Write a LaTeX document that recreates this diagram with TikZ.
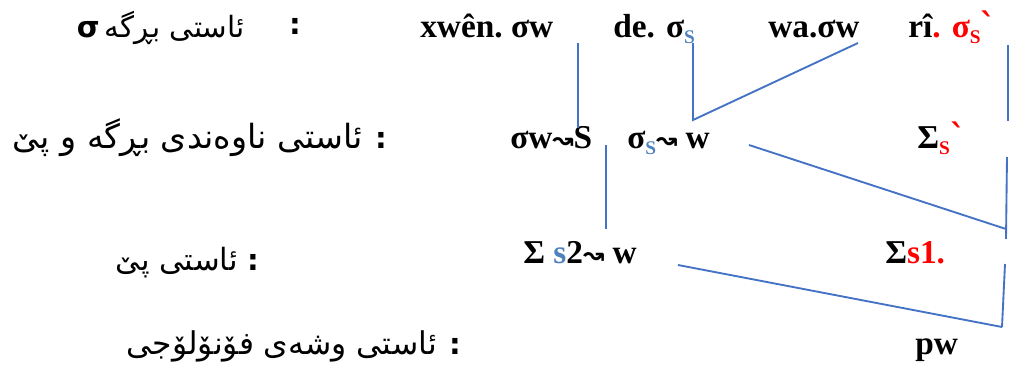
\documentclass[tikz,border=0pt]{standalone}
\usepackage{fontspec}
\setmainfont{Liberation Serif}
\newfontfamily\arfont[Script=Arabic]{DejaVu Sans}
\newfontfamily\symfont{DejaVu Sans}
\newfontfamily\serifsym{DejaVu Serif}
\TeXXeTstate=1
\definecolor{lineblue}{HTML}{4472C4}
\definecolor{sblue}{HTML}{4F81BD}
\definecolor{rred}{HTML}{FF0000}
\newcommand\wavearr{{\symfont\bfseries\fontsize{19}{19}\selectfont ↝}}
\newcommand\subS[1]{\raisebox{-5pt}{\fontsize{14.5}{15}\selectfont\textcolor{#1}{S}}}
\newcommand\grv{\kern-0.5pt{\serifsym\bfseries ˋ}}
\begin{document}
\begin{tikzpicture}[x=0.75pt,y=-0.75pt,
  lat/.style={anchor=base west, inner sep=0pt, font=\bfseries\fontsize{25}{29}\selectfont},
  ark/.style={anchor=base east, inner sep=0pt, font=\arfont\fontsize{#1}{28}\selectfont},
  colon/.style={anchor=base, inner sep=0pt, font=\arfont\bfseries\fontsize{22}{26}\selectfont},
  ln/.style={draw=lineblue, line width=1.4pt}]
\useasboundingbox (0,0) rectangle (1015,371);
% Latin nodes
\node[lat] (xwen) at (420,37) {xwên.\ σw};
\node[lat] (de) at (613,37) {de. σ\subS{sblue}};
\node[lat] (wa) at (768,37) {wa.σw};
\node[lat] (ri) at (908,37) {rî\textcolor{rred}{. σ}\subS{rred}\textcolor{rred}{\grv}};
\node[lat] (sw) at (510,148) {σw\wavearr S};
\node[lat] (ss) at (627,148) {σ\subS{sblue}\wavearr\ w};
\node[lat] (Ss) at (917,148) {Σ\subS{rred}\textcolor{rred}{\grv}};
\node[lat] (s2) at (523,263) {Σ \textcolor{sblue}{s}2\wavearr\ w};
\node[lat] (s1) at (885,263) {Σ\textcolor{rred}{s1.}};
\node[lat] (pw) at (915,354) {pw};
% Kurdish labels
\node[ark=22] (a1) at (245,37) {{\bfseries σ}\,\beginR ئاستی بڕگە\endR};
\node[colon] (c1) at (295,35) {:};
\node[ark=25] (a2) at (363,148) {\beginR ئاستی ناوەندی بڕگە و پێ\endR};
\node[colon] (c2) at (381,148) {:};
\node[ark=23] (a3) at (238,270) {\beginR ئاستی پێ\endR};
\node[colon] (c3) at (253,270) {:};
\node[ark=23.5] (a4) at (437,354) {\beginR ئاستی وشەی فۆنۆلۆجی\endR};
\node[colon] (c4) at (455,354) {:};
% connector end points
\coordinate (A1) at (578,43);  \coordinate (A2) at (578,128);
\coordinate (B1) at (693,43);  \coordinate (B2) at (693,120); \coordinate (B3) at (858,43);
\coordinate (C1) at (1008,45); \coordinate (C2) at (1008,121);
\coordinate (D1) at (606,145); \coordinate (D2) at (606,229);
\coordinate (E1) at (749,145); \coordinate (E2) at (1006,229);
\coordinate (G1) at (1007,157); \coordinate (G2) at (1006,239);
\coordinate (F1) at (678,265); \coordinate (F2) at (1002,327);
\coordinate (H1) at (1005,264);
% connectors
\draw[ln] (A1) -- (A2);
\draw[ln] (B1) -- (B2) -- (B3);
\draw[ln] (C1) -- (C2);
\draw[ln] (D1) -- (D2);
\draw[ln] (E1) -- (E2);
\draw[ln] (G1) -- (G2);
\draw[ln] (F1) -- (F2);
\draw[ln] (H1) -- (F2);
\end{tikzpicture}
\end{document}
